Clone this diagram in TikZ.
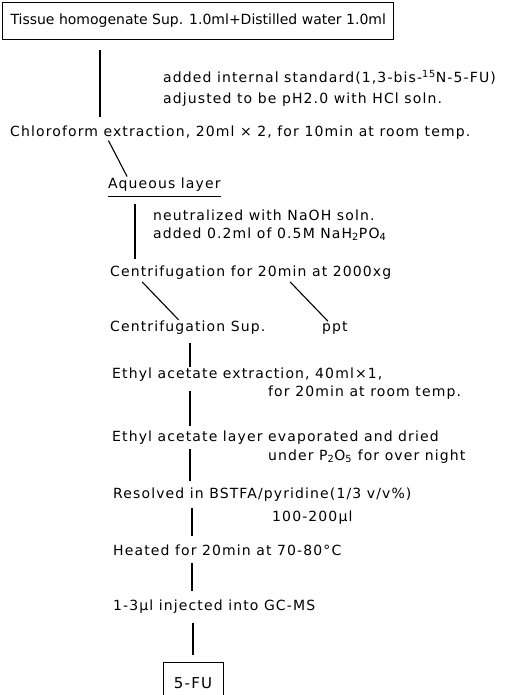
\documentclass[tikz,border=0pt]{standalone}
\usepackage{fontspec}
\setmainfont[LetterSpace=8]{DejaVu Sans}
\newfontfamily\boxfont{DejaVu Sans}
\newcommand\flowfont{\fontsize{14}{16}\selectfont}

\begin{document}
\begin{tikzpicture}[x=1pt, y=-1pt,
    stepnode/.style={anchor=west, inner xsep=0pt, inner ysep=0pt,
                     text height=10pt, text depth=3pt, font=\flowfont},
    boxnode/.style={stepnode, draw, line width=1pt, inner xsep=8pt, minimum height=37pt},
    link/.style={line width=1.1pt}]

  \useasboundingbox (0,0) rectangle (523,695);
  \clip (0,0) rectangle (523,695);

  % Main steps
  \node[boxnode, minimum width=391pt, font=\flowfont\boxfont] (tissue) at (2,21.5)
       {Tissue homogenate Sup. 1.0ml+Distilled water 1.0ml};
  \node[stepnode] (chloro) at (10,133) {Chloroform extraction, 20ml × 2, for 10min at room temp.};
  \node[stepnode] (aq)     at (108,185) {Aqueous layer};
  \node[stepnode] (cent)   at (110,273) {Centrifugation for 20min at 2000xg};
  \node[stepnode] (sup)    at (110,328) {Centrifugation Sup.};
  \node[stepnode] (ppt)    at (322,328) {ppt};
  \node[stepnode] (ethyl)  at (112,375) {Ethyl acetate extraction, 40ml×1,};
  \node[stepnode] (layer)  at (112,438) {Ethyl acetate layer evaporated and dried};
  \node[stepnode] (resolv) at (113,495) {Resolved in BSTFA/pyridine(1/3 v/v\%)};
  \node[stepnode] (heat)   at (113,552) {Heated for 20min at 70-80°C};
  \node[stepnode] (inj)    at (113,607) {1-3μl injected into GC-MS};
  \node[boxnode, anchor=north, minimum width=60pt, minimum height=45pt,
        inner xsep=4pt, font=\fontsize{15}{17}\selectfont] (fu) at (193,662) {5-FU};

  % Side notes
  \node[stepnode] (std1)  at (163,79)  {added internal standard(1,3-bis-\textsuperscript{15}N-5-FU)};
  \node[stepnode] (std2)  at (163,100) {adjusted to be pH2.0 with HCl soln.};
  \node[stepnode] (neut1) at (153,217) {neutralized with NaOH soln.};
  \node[stepnode] (neut2) at (153,235) {added 0.2ml of 0.5M NaH\textsubscript{2}PO\textsubscript{4}};
  \node[stepnode] (room)  at (268,393) {for 20min at room temp.};
  \node[stepnode] (under) at (268,457) {under P\textsubscript{2}O\textsubscript{5} for over night};
  \node[stepnode] (vol)   at (272,518) {100-200μl};

  % Underline of the aqueous layer
  \draw[line width=0.9pt] ([yshift=-5pt]aq.south west) -- ([yshift=-5pt]aq.south east);

  % Connectors
  \draw[link, shorten <=10pt, shorten >=9pt] ([xshift=98pt]tissue.south west) -- ([xshift=90pt]chloro.north west);
  \draw[link, shorten <=1pt, shorten >=2pt] ([xshift=98pt]chloro.south west) -- ([xshift=20pt]aq.north west);
  \draw[link, shorten <=12pt, shorten >=7pt] ([xshift=27pt]aq.south west) -- ([xshift=25pt]cent.north west);
  \draw[link, shorten <=3pt, shorten >=2pt] ([xshift=30pt]cent.south west) -- ([xshift=70pt]sup.north west);
  \draw[link, shorten <=3pt, shorten >=0pt] ([xshift=178pt]cent.south west) -- ([xshift=6pt]ppt.north west);
  \draw[link, shorten <=8pt, shorten >=1pt] ([xshift=80pt]sup.south west) -- ([xshift=78pt]ethyl.north west);
  \draw[link, shorten <=9pt, shorten >=5pt] ([xshift=78pt]ethyl.south west) -- ([xshift=78pt]layer.north west);
  \draw[link, shorten <=4pt, shorten >=7pt] ([xshift=78pt]layer.south west) -- ([xshift=77pt]resolv.north west);
  \draw[link, shorten <=6pt, shorten >=9pt] ([xshift=79pt]resolv.south west) -- ([xshift=79pt]heat.north west);
  \draw[link, shorten <=4pt, shorten >=9pt] ([xshift=79pt]heat.south west) -- ([xshift=79pt]inj.north west);
  \draw[link, shorten <=9pt, shorten >=7pt] ([xshift=80pt]inj.south west) -- (fu.north);

\end{tikzpicture}
\end{document}
